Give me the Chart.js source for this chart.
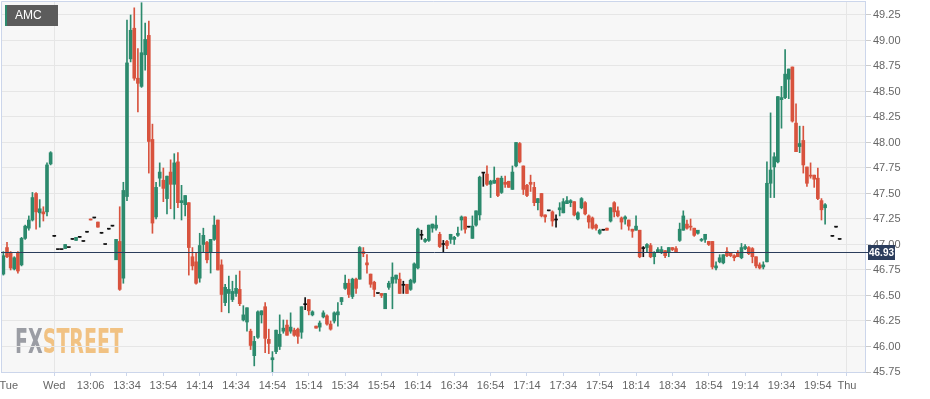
<!DOCTYPE html>
<html>
<head>
<meta charset="utf-8">
<script src="https://cdn.jsdelivr.net/npm/chart.js@4.4.1/dist/chart.umd.min.js"></script>
<style>
  html, body { margin: 0; padding: 0; background: #fff; }
</style>
</head>
<body>
<canvas id="chart" width="930" height="399"></canvas>
<script>
// AMC 2-minute candles, slot 0 = first visible candle on Tuesday
const symbol = 'AMC';
const lastPrice = 46.93;

const opens = [
  46.83, 46.71, 46.97, 46.92, 46.76, 46.92, 46.80, 47.06, 47.16, 47.24,
  47.50, 47.31, 47.32, 47.32, 47.79, 47.08, 46.95, 46.95, 46.96, 46.97,
  47.05, 47.04, 47.07, 47.03, 47.12, 47.25, 47.26, 47.22, 47.11, 47.00,
  47.15, 47.18, 46.85, 47.03, 46.67, 47.47, 48.82, 49.12, 48.63, 48.55,
  48.86, 49.05, 48.03, 47.27, 47.65, 47.63, 47.45, 47.71, 47.59, 47.81,
  47.41, 47.39, 47.41, 46.88, 46.83, 46.67, 47.00, 47.02, 46.92, 47.05,
  47.24, 46.80, 46.43, 46.52, 46.46, 46.52, 46.56, 46.26, 46.24, 46.15,
  45.91, 46.09, 46.31, 46.39, 46.07, 45.87, 45.95, 46.00, 46.15, 46.21,
  46.15, 46.16, 46.17, 46.14, 46.41, 46.46, 46.31, 46.20, 46.19, 46.29,
  46.30, 46.22, 46.25, 46.31, 46.44, 46.57, 46.62, 46.49, 46.66, 46.66,
  46.93, 46.82, 46.71, 46.63, 46.52, 46.52, 46.37, 46.58, 46.62, 46.66,
  46.66, 46.60, 46.61, 46.56, 46.63, 46.77, 47.09, 47.03, 47.04, 47.16,
  47.16, 47.10, 47.00, 47.03, 47.05, 47.05, 47.09, 47.24, 47.27, 47.17,
  47.06, 47.19, 47.29, 47.70, 47.69, 47.59, 47.60, 47.65, 47.51, 47.61,
  47.62, 47.54, 47.77, 47.99, 47.77, 47.58, 47.61, 47.56, 47.41, 47.50,
  47.29, 47.33, 47.32, 47.24, 47.34, 47.31, 47.40, 47.41, 47.42, 47.25,
  47.36, 47.41, 47.28, 47.26, 47.19, 47.11, 47.14, 47.16, 47.23, 47.41,
  47.33, 47.26, 47.25, 47.24, 47.15, 47.14, 47.14, 46.96, 46.97, 46.99,
  46.88, 46.93, 46.92, 46.94, 46.92, 46.97, 46.96, 47.04, 47.14, 47.20,
  47.18, 47.16, 47.11, 47.04, 47.05, 47.03, 47.03, 46.77, 46.83, 46.82,
  46.93, 46.92, 46.89, 46.92, 46.87, 46.96, 46.97, 46.96, 46.88, 46.80,
  46.78, 46.83, 47.60, 47.76, 47.81, 48.42, 48.44, 48.62, 48.74, 48.19,
  47.96, 48.02, 47.76, 47.68, 47.68, 47.65, 47.43, 47.36, null, 47.08,
  47.17, 47.05
];
const highs = [
  46.85, 46.93, 47.02, 46.93, 46.88, 46.93, 47.07, 47.19, 47.28, 47.51,
  47.51, 47.44, 47.37, 47.80, 47.91, 47.08, 46.95, 46.95, 47.00, 46.97,
  47.05, 47.07, 47.07, 47.03, 47.12, 47.25, 47.26, 47.22, 47.11, 47.00,
  47.15, 47.18, 47.05, 47.37, 47.61, 49.20, 49.25, 49.32, 48.92, 49.37,
  49.17, 49.19, 48.18, 47.61, 47.80, 47.75, 47.67, 47.83, 47.89, 47.90,
  47.58, 47.48, 47.41, 46.97, 46.92, 47.11, 47.16, 47.03, 47.05, 47.28,
  47.24, 46.85, 46.61, 46.69, 46.64, 46.70, 46.74, 46.40, 46.38, 46.17,
  46.10, 46.35, 46.35, 46.43, 46.17, 45.95, 46.16, 46.31, 46.26, 46.26,
  46.33, 46.18, 46.18, 46.39, 46.48, 46.46, 46.35, 46.20, 46.25, 46.35,
  46.31, 46.25, 46.34, 46.43, 46.48, 46.70, 46.66, 46.67, 46.67, 46.98,
  46.97, 46.90, 46.71, 46.64, 46.52, 46.52, 46.52, 46.64, 46.82, 46.70,
  46.72, 46.64, 46.61, 46.66, 46.82, 47.16, 47.14, 47.06, 47.19, 47.20,
  47.28, 47.12, 47.04, 47.04, 47.10, 47.08, 47.17, 47.28, 47.27, 47.17,
  47.28, 47.33, 47.67, 47.70, 47.77, 47.63, 47.76, 47.65, 47.67, 47.67,
  47.62, 47.77, 48.00, 48.00, 47.77, 47.59, 47.68, 47.61, 47.45, 47.50,
  47.29, 47.33, 47.33, 47.29, 47.41, 47.45, 47.47, 47.44, 47.42, 47.32,
  47.46, 47.42, 47.29, 47.27, 47.20, 47.15, 47.14, 47.16, 47.36, 47.42,
  47.37, 47.27, 47.28, 47.24, 47.15, 47.28, 47.14, 46.98, 47.01, 47.01,
  46.93, 46.97, 46.98, 46.94, 46.97, 46.97, 46.98, 47.21, 47.33, 47.24,
  47.25, 47.16, 47.14, 47.06, 47.10, 47.03, 47.03, 46.83, 46.90, 46.90,
  46.97, 46.92, 46.90, 46.94, 47.01, 47.00, 46.98, 46.97, 46.88, 46.82,
  46.83, 47.81, 48.29, 47.90, 48.45, 48.55, 48.91, 48.72, 48.74, 48.38,
  48.16, 48.16, 47.76, 47.80, 47.68, 47.75, 47.45, 47.40, null, 47.08,
  47.17, 47.05
];
const lows = [
  46.66, 46.70, 46.87, 46.75, 46.75, 46.72, 46.79, 47.05, 47.14, 47.23,
  47.15, 47.17, 47.23, 47.28, 47.78, 47.08, 46.95, 46.95, 46.96, 46.97,
  47.05, 47.04, 47.07, 47.03, 47.12, 47.24, 47.26, 47.17, 47.11, 47.00,
  47.15, 47.18, 46.85, 46.55, 46.62, 47.43, 48.79, 48.61, 48.30, 48.54,
  48.71, 47.70, 47.11, 47.25, 47.57, 47.42, 47.30, 47.35, 47.25, 47.36,
  47.24, 47.28, 46.70, 46.75, 46.61, 46.63, 46.92, 46.82, 46.72, 47.04,
  46.75, 46.34, 46.40, 46.33, 46.44, 46.49, 46.40, 46.25, 46.15, 45.97,
  45.81, 46.08, 46.23, 45.94, 45.93, 45.75, 45.93, 45.97, 46.13, 46.11,
  46.13, 46.10, 46.03, 46.08, 46.36, 46.31, 46.30, 46.18, 46.15, 46.28,
  46.21, 46.16, 46.23, 46.20, 46.41, 46.56, 46.48, 46.47, 46.52, 46.66,
  46.88, 46.72, 46.58, 46.49, 46.52, 46.48, 46.37, 46.56, 46.37, 46.62,
  46.52, 46.52, 46.52, 46.55, 46.62, 46.76, 47.05, 47.02, 47.03, 47.12,
  47.14, 46.97, 46.92, 46.96, 47.01, 47.00, 47.08, 47.14, 47.11, 47.17,
  47.06, 47.18, 47.24, 47.57, 47.58, 47.46, 47.60, 47.47, 47.50, 47.56,
  47.56, 47.54, 47.76, 47.80, 47.49, 47.47, 47.52, 47.38, 47.34, 47.27,
  47.22, 47.33, 47.18, 47.17, 47.28, 47.31, 47.40, 47.37, 47.28, 47.24,
  47.35, 47.29, 47.16, 47.15, 47.14, 47.10, 47.14, 47.14, 47.22, 47.27,
  47.27, 47.15, 47.20, 47.14, 47.07, 47.14, 46.87, 46.88, 46.93, 46.87,
  46.81, 46.92, 46.91, 46.87, 46.88, 46.94, 46.92, 47.03, 47.14, 47.15,
  47.14, 47.08, 47.10, 47.03, 47.02, 46.99, 46.76, 46.75, 46.82, 46.81,
  46.88, 46.88, 46.84, 46.88, 46.86, 46.95, 46.90, 46.82, 46.77, 46.76,
  46.76, 46.83, 47.46, 47.46, 47.80, 48.14, 48.43, 48.43, 48.20, 47.91,
  47.90, 47.70, 47.57, 47.65, 47.56, 47.44, 47.24, 47.20, null, 47.08,
  47.17, 47.05
];
const closes = [
  46.67, 46.89, 46.88, 46.77, 46.87, 46.74, 47.06, 47.18, 47.24, 47.46,
  47.32, 47.35, 47.30, 47.78, 47.90, 47.08, 46.95, 46.95, 47.00, 46.97,
  47.05, 47.07, 47.07, 47.03, 47.12, 47.24, 47.26, 47.17, 47.11, 47.00,
  47.15, 47.18, 47.05, 46.56, 47.53, 48.78, 49.10, 48.63, 48.58, 48.88,
  49.01, 48.01, 47.21, 47.56, 47.71, 47.55, 47.67, 47.59, 47.80, 47.41,
  47.43, 47.48, 46.97, 46.79, 46.62, 46.99, 47.09, 46.85, 47.05, 47.19,
  46.75, 46.51, 46.58, 46.56, 46.54, 46.57, 46.42, 46.31, 46.38, 46.01,
  46.05, 46.34, 46.35, 46.08, 46.03, 45.89, 46.16, 46.12, 46.18, 46.11,
  46.19, 46.11, 46.10, 46.39, 46.41, 46.35, 46.34, 46.18, 46.23, 46.33,
  46.22, 46.17, 46.33, 46.34, 46.48, 46.62, 46.51, 46.66, 46.57, 46.97,
  46.91, 46.80, 46.61, 46.56, 46.52, 46.50, 46.52, 46.62, 46.68, 46.70,
  46.52, 46.60, 46.52, 46.65, 46.81, 47.15, 47.09, 47.05, 47.19, 47.20,
  47.19, 46.98, 47.00, 46.99, 47.10, 47.07, 47.11, 47.27, 47.15, 47.17,
  47.18, 47.33, 47.66, 47.70, 47.59, 47.62, 47.63, 47.48, 47.65, 47.59,
  47.56, 47.71, 48.00, 47.81, 47.54, 47.48, 47.59, 47.41, 47.45, 47.28,
  47.27, 47.33, 47.23, 47.24, 47.36, 47.42, 47.43, 47.43, 47.29, 47.31,
  47.45, 47.30, 47.22, 47.16, 47.16, 47.14, 47.14, 47.14, 47.36, 47.32,
  47.28, 47.22, 47.27, 47.18, 47.13, 47.18, 46.88, 46.96, 47.00, 46.88,
  46.92, 46.95, 46.95, 46.89, 46.97, 46.95, 46.93, 47.15, 47.28, 47.16,
  47.17, 47.09, 47.14, 47.05, 47.10, 47.00, 46.78, 46.79, 46.87, 46.90,
  46.89, 46.89, 46.87, 46.88, 46.97, 46.98, 46.91, 46.88, 46.79, 46.77,
  46.80, 47.60, 47.73, 47.86, 48.45, 48.44, 48.67, 48.72, 48.21, 47.91,
  47.99, 47.78, 47.60, 47.67, 47.64, 47.45, 47.34, 47.39, null, 47.08,
  47.17, 47.05
];

// x axis labels sit on candle slots (Tue is only a label at the left edge)
const tickSlots = [2.5, 15, 25, 35, 45, 55, 65, 75, 85, 95, 105, 115, 125, 135,
  145, 155, 165, 175, 185, 195, 205, 215, 225, 233];
const tickLabels = ['Tue', 'Wed', '13:06', '13:34', '13:54', '14:14', '14:34', '14:54',
  '15:14', '15:34', '15:54', '16:14', '16:34', '16:54', '17:14', '17:34', '17:54',
  '18:14', '18:34', '18:54', '19:14', '19:34', '19:54', 'Thu'];
const dayLines = ['Wed', 'Thu'];
const yTicks = [45.75, 46.00, 46.25, 46.50, 46.75, 47.00, 47.25, 47.50, 47.75,
  48.00, 48.25, 48.50, 48.75, 49.00, 49.25];

const UP = '#2c8a6d';
const DOWN = '#d8533e';
const FLAT = '#111111';

function candleColor(i) {
    if (closes[i] > opens[i]) return UP;
    if (closes[i] < opens[i]) return DOWN;
    return FLAT;
}

const wickData = [];
const bodyData = [];
opens.forEach((o, i) => {
    if (o === null) return;
    wickData.push({ x: i, y: [lows[i], highs[i]], c: i });
    bodyData.push({ x: i, y: [opens[i], closes[i]], c: i });
});

const axisFont = { family: '"Liberation Sans", Arial, sans-serif', size: 11 };

const chartDecor = {
    id: 'chartDecor',
    beforeDraw(chart) {
        const { ctx, chartArea: a } = chart;
        ctx.save();
        ctx.fillStyle = '#ffffff';
        ctx.fillRect(0, 0, chart.width, chart.height);
        ctx.fillStyle = '#f7f7f7';
        ctx.fillRect(a.left, a.top, a.right - a.left, a.bottom - a.top);

        // FXSTREET watermark
        ctx.font = 'bold 34px "DejaVu Sans Condensed", "DejaVu Sans", sans-serif';
        ctx.textBaseline = 'alphabetic';
        const w1 = ctx.measureText('FX').width;
        const w2 = ctx.measureText('STREET').width;
        ctx.translate(a.left + 14, a.bottom - 19);
        ctx.scale(108 / (w1 + w2), 1);
        ctx.fillStyle = '#9b9da4';
        ctx.fillText('FX', 0, 0);
        ctx.fillStyle = '#f1c283';
        ctx.fillText('STREET', w1, 0);
        ctx.restore();
    },
    afterDraw(chart) {
        const { ctx, chartArea: a } = chart;
        const yScale = chart.scales.y;
        ctx.save();

        // plot frame (top + left)
        ctx.strokeStyle = '#ccd6eb';
        ctx.lineWidth = 1;
        ctx.beginPath();
        ctx.moveTo(a.left + 0.5, a.bottom);
        ctx.lineTo(a.left + 0.5, a.top + 0.5);
        ctx.lineTo(a.right, a.top + 0.5);
        ctx.stroke();

        // last price line + label
        const y = Math.round(yScale.getPixelForValue(lastPrice)) + 0.5;
        ctx.strokeStyle = '#2b3d5c';
        ctx.beginPath();
        ctx.moveTo(a.left, y);
        ctx.lineTo(a.right + 3, y);
        ctx.stroke();
        ctx.fillStyle = '#2b3d5c';
        ctx.fillRect(a.right + 3, y - 7.5, 27, 15);
        ctx.fillStyle = '#ffffff';
        ctx.font = 'bold 11px "Liberation Sans", Arial, sans-serif';
        ctx.textAlign = 'center';
        ctx.textBaseline = 'middle';
        ctx.fillText(lastPrice.toFixed(2), a.right + 16.5, y + 0.5, 25);

        // symbol legend
        ctx.fillStyle = '#5c5c5c';
        ctx.fillRect(5, 5, 53, 21);
        ctx.fillStyle = UP;
        ctx.fillRect(5, 5, 2, 21);
        ctx.fillStyle = '#ffffff';
        ctx.font = '12px "Liberation Sans", Arial, sans-serif';
        ctx.textAlign = 'left';
        ctx.fillText(symbol, 15, 16);
        ctx.restore();
    }
};

new Chart(document.getElementById('chart'), {
    type: 'bar',
    data: {
        datasets: [
            {
                label: 'wick',
                data: wickData,
                grouped: false,
                barThickness: 1,
                backgroundColor: ctx => ctx.raw ? candleColor(ctx.raw.c) : UP,
                borderWidth: 0
            },
            {
                label: 'body',
                data: bodyData,
                grouped: false,
                barThickness: 3,
                minBarLength: 1,
                backgroundColor: ctx => ctx.raw ? candleColor(ctx.raw.c) : UP,
                borderWidth: 0
            }
        ]
    },
    options: {
        responsive: false,
        animation: false,
        devicePixelRatio: 1,
        layout: { padding: { left: 1, top: 1, right: 0, bottom: 0 } },
        plugins: {
            legend: { display: false },
            tooltip: { enabled: false }
        },
        scales: {
            x: {
                type: 'linear',
                min: 0.35,
                max: 237.97,
                offset: false,
                afterBuildTicks: s => { s.ticks = tickSlots.map(v => ({ value: v })); },
                afterFit: s => {
                    s.height = 27;
                    s.paddingLeft = 0;
                    s.paddingRight = 0;
                },
                grid: {
                    offset: false,
                    color: ctx => dayLines.includes(tickLabels[ctx.index]) ? '#e6e6e6' : 'rgba(0,0,0,0)',
                    tickColor: ctx => ctx.index === 0 ? 'rgba(0,0,0,0)' : '#ccd6eb',
                    tickLength: 4
                },
                border: { color: '#ccd6eb' },
                ticks: {
                    autoSkip: false,
                    maxRotation: 0,
                    padding: 3,
                    color: '#666666',
                    font: axisFont,
                    callback: (v, i) => tickLabels[i]
                }
            },
            y: {
                position: 'right',
                min: 45.75,
                max: 49.387,
                afterBuildTicks: s => { s.ticks = yTicks.map(v => ({ value: v })); },
                afterFit: s => {
                    s.width = 65;
                    s.paddingTop = 0;
                    s.paddingBottom = 0;
                },
                grid: {
                    color: '#e6e6e6',
                    tickColor: '#cccccc',
                    tickLength: 6
                },
                border: { color: '#ccd6eb' },
                ticks: {
                    padding: 2,
                    color: '#666666',
                    font: axisFont,
                    callback: v => v.toFixed(2)
                }
            }
        }
    },
    plugins: [chartDecor]
});
</script>
</body>
</html>
